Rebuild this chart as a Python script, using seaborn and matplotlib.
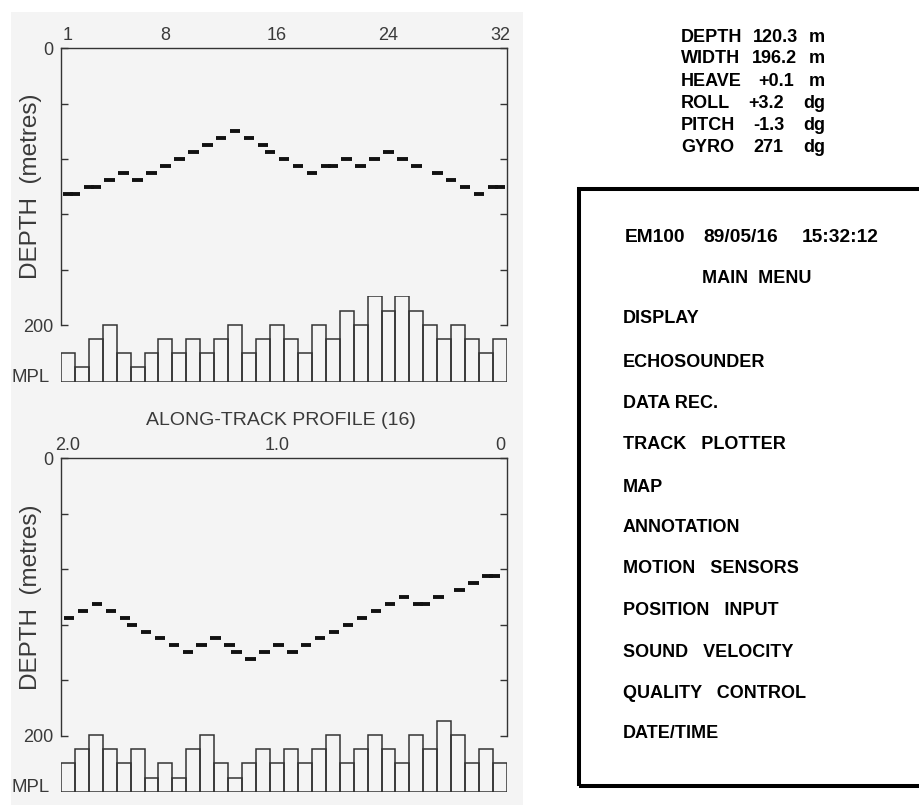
import numpy as np
import pandas as pd
import matplotlib
matplotlib.use("Agg")
import matplotlib.pyplot as plt
import seaborn as sns
from matplotlib.patches import Rectangle

# --- data ---
# across-track profile (beams 1..32): dash position (beam number) and depth (m)
beam_pos = [1.0, 1.5, 2.5, 3.0, 4, 5, 6, 7, 8, 9, 10, 11, 12, 13, 14, 15,
            15.5, 16.5, 17.5, 18.5, 19.5, 20.0, 21, 22, 23, 24, 25, 26,
            27.5, 28.5, 29.5, 30.5, 31.5, 32.0]
beam_depth = [105, 105, 100, 100, 95, 90, 95, 90, 85, 80, 75, 70, 65, 60, 65, 70,
              75, 80, 85, 90, 85, 85, 80, 85, 80, 75, 80, 85,
              90, 95, 100, 105, 100, 100]
beam_cols = list(range(1, 33))
beam_mpl = [2, 1, 3, 4, 2, 1, 2, 3, 2, 3, 2, 3, 4, 2, 3, 4,
            3, 2, 4, 3, 5, 4, 6, 5, 6, 5, 4, 3, 4, 3, 2, 3]

# along-track profile
track_pos = [1.1, 2.1, 3.1, 4.1, 5.1, 5.6, 6.6, 7.6, 8.6, 9.6, 10.6, 11.6, 12.6,
             13.1, 14.1, 15.1, 16.1, 17.1, 18.1, 19.1, 20.1, 21.1, 22.1, 23.1,
             24.1, 25.1, 26.1, 26.6, 27.6, 29.1, 30.1, 31.1, 31.6]
track_depth = [115, 110, 105, 110, 115, 120, 125, 130, 135, 140, 135, 130, 135,
               140, 145, 140, 135, 140, 135, 130, 125, 120, 115, 110,
               105, 100, 105, 105, 100, 95, 90, 85, 85]
track_mpl = [2, 3, 4, 3, 2, 3, 1, 2, 1, 3, 4, 2, 1, 2, 3, 2,
             3, 2, 3, 4, 2, 3, 4, 3, 2, 4, 3, 5, 4, 2, 3, 2]

beam_ticks = [1, 8, 16, 24, 32]
beam_ticklabels = ["1", "8", "16", "24", "32"]
track_ticks = [1, 16, 32]
track_ticklabels = ["2.0", "1.0", "0"]
depth_ticks = [0, 40, 80, 120, 160, 200]
depth_ticklabels = ["0", "", "", "", "", "200"]

info_names = ["DEPTH", "WIDTH", "HEAVE", "ROLL", "PITCH", "GYRO"]
info_values = ["120.3", "196.2", "+0.1", "+3.2", "-1.3", "271"]
info_units = ["m", "m", "m", "dg", "dg", "dg"]

header_parts = ["EM100", "89/05/16", "15:32:12"]
menu_items = ["DISPLAY", "ECHOSOUNDER", "DATA REC.", "TRACK   PLOTTER", "MAP",
              "ANNOTATION", "MOTION   SENSORS", "POSITION   INPUT",
              "SOUND   VELOCITY", "QUALITY   CONTROL", "DATE/TIME"]

# --- style ---
sns.set_theme(style="white")
plt.rcParams["font.family"] = ["Liberation Sans", "DejaVu Sans"]
W, H = 919, 807
fig = plt.figure(figsize=(W / 100, H / 100), dpi=100)
fig.patch.set_facecolor("white")
INK = "#333333"
TXT = "#3a3a3a"

# grey scan area on the left
fig.patches.append(Rectangle((11 / W, 1 - 805 / H), 512 / W, 793 / H,
                             transform=fig.transFigure, facecolor="#f4f4f4",
                             edgecolor="none", zorder=-5))


def px_axes(left, top, right, bottom):
    ax = fig.add_axes([left / W, 1 - bottom / H, (right - left) / W, (bottom - top) / H])
    ax.set_zorder(1)
    return ax


def profile_panel(top, bottom, pos, depth, ticks, ticklabels):
    ax = px_axes(60.9, top, 507, bottom)
    ax.set_facecolor("none")
    pos = np.array(pos)
    ax.hlines(depth, pos - 0.375, pos + 0.375, color="#111111", linewidth=2.8)
    ax.set_xlim(0.5, 32.5)
    ax.set_ylim(200, 0)
    for side in ["top", "left", "right"]:
        ax.spines[side].set_color(INK)
        ax.spines[side].set_linewidth(1.0)
    ax.spines["bottom"].set_visible(False)
    ax.xaxis.tick_top()
    ax.set_xticks(ticks)
    ax.set_xticklabels(ticklabels)
    ax.tick_params(axis="x", length=0, pad=3.3, labelsize=13, labelcolor=TXT)
    ax.set_yticks(depth_ticks)
    ax.set_yticklabels(depth_ticklabels)
    ax.tick_params(axis="y", direction="in", left=True, right=True, length=5,
                   width=1.0, color=INK, pad=5.3, labelsize=13, labelcolor=TXT)
    ax.grid(False)
    fig.text(31 / W, 1 - (top + bottom) / 2 / H, "DEPTH  (metres)", rotation=90,
             ha="center", va="center", fontsize=17.5, color=TXT)
    return ax


def mpl_panel(base, cols, mpl):
    ax = px_axes(60.9, base - 6 * 14.17, 507, base)
    ax.set_facecolor("none")
    sns.barplot(x=cols, y=mpl, native_scale=True, width=1, fill=False,
                color=INK, linewidth=1.1, errorbar=None, ax=ax)
    ax.set_xlim(0.5, 32.5)
    ax.set_ylim(0, 6)
    ax.axis("off")
    fig.text(50 / W, 1 - base / H, "MPL", ha="right", va="baseline",
             fontsize=13.4, color=TXT)
    return ax


profile_panel(48.3, 325, beam_pos, beam_depth, beam_ticks, beam_ticklabels)
mpl_panel(381.5, beam_cols, beam_mpl)

fig.text(280.5 / W, 1 - 425 / H, "ALONG-TRACK PROFILE (16)", ha="center",
         va="baseline", fontsize=14, color=TXT)
profile_panel(458.3, 735.5, track_pos, track_depth, track_ticks, track_ticklabels)
mpl_panel(791.7, beam_cols, track_mpl)

# --- right side: status values and menu box ---
info_base = [41.7, 63.3, 85.7, 108.3, 130, 152.3]
value_x = [753, 752, 758, 748, 753, 753]
for name, val, unit, y, vx in zip(info_names, info_values, info_units, info_base, value_x):
    fig.text(681 / W, 1 - y / H, name, ha="left", va="baseline", fontsize=13,
             fontweight="bold", color="black")
    fig.text(vx / W, 1 - y / H, val, ha="left", va="baseline", fontsize=13,
             fontweight="bold", color="black")
    fig.text(825 / W, 1 - y / H, unit, ha="right", va="baseline", fontsize=13,
             fontweight="bold", color="black")

fig.patches.append(Rectangle((579 / W, 1 - 785.5 / H), 360 / W, 597 / H,
                             transform=fig.transFigure, fill=False,
                             edgecolor="black", linewidth=2.9, zorder=2))

for part, x in zip(header_parts, [655, 740.5, 840]):
    fig.text(x / W, 1 - 241.7 / H, part, ha="center", va="baseline", fontsize=13.8,
             fontweight="bold", color="black")
fig.text(757 / W, 1 - 283.3 / H, "MAIN  MENU", ha="center", va="baseline",
         fontsize=13, fontweight="bold", color="black")
menu_base = [322.7, 366.7, 407.7, 449.3, 491.7, 531.7, 573.3, 615, 656.7, 698.3, 738.3]
for item, y in zip(menu_items, menu_base):
    fig.text(623 / W, 1 - y / H, item, ha="left", va="baseline", fontsize=13,
             fontweight="bold", color="black")

fig.savefig("out.png", dpi=100)
